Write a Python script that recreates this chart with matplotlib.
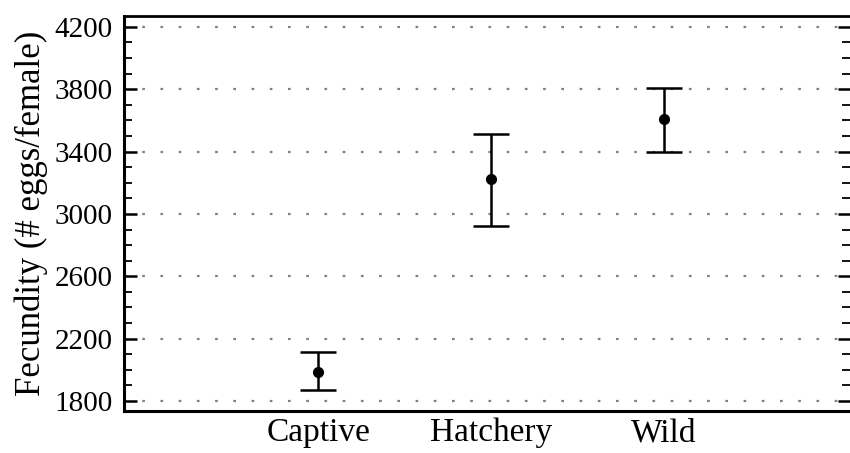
import matplotlib
matplotlib.use('Agg')
import matplotlib.pyplot as plt
from matplotlib.ticker import MultipleLocator

groups = ['Captive', 'Hatchery', 'Wild']
means = [1986, 3223, 3608]
upper = [2114, 3514, 3811]
lower = [1871, 2925, 3400]
yticks = [1800, 2200, 2600, 3000, 3400, 3800, 4200]

plt.rcParams['font.family'] = 'Liberation Serif'


def main():
    fig = plt.figure(figsize=(8.5, 4.53), dpi=100)
    ax = fig.add_axes([0.1459, 0.0927, 0.8541, 0.872])

    # Medelvärde med felstaplar per grupp
    x = [1, 2, 3]
    err_lo = [m - l for m, l in zip(means, lower)]
    err_hi = [u - m for m, u in zip(means, upper)]
    ax.errorbar(x, means, yerr=[err_lo, err_hi], fmt='o', color='black',
                markersize=7, elinewidth=1.8, capsize=13, capthick=1.8, zorder=3)

    ax.set_xlim(-0.125, 4.08)
    ax.set_ylim(1736, 4270)
    ax.set_xticks(x)
    ax.set_xticklabels(groups, fontsize=24)
    ax.tick_params(axis='x', length=0, pad=5)

    ax.set_yticks(yticks)
    ax.yaxis.set_minor_locator(MultipleLocator(100))
    ax.tick_params(axis='y', which='major', direction='in', length=9, width=1.8,
                   labelsize=21, right=True, pad=8)
    ax.tick_params(axis='y', which='minor', direction='in', length=5.5, width=1.3,
                   right=True)
    ax.grid(axis='y', which='major', color='gray', linestyle=(0, (1.2, 7)), linewidth=1.6)
    ax.set_axisbelow(True)

    ax.set_ylabel('Fecundity (# eggs/female)', fontsize=25, labelpad=5)

    ax.spines['left'].set_linewidth(2.2)
    ax.spines['bottom'].set_linewidth(2.2)
    ax.spines['top'].set_linewidth(2.0)
    ax.spines['right'].set_visible(False)

    fig.savefig('out.png', dpi=100)


if __name__ == "__main__":
    main()
